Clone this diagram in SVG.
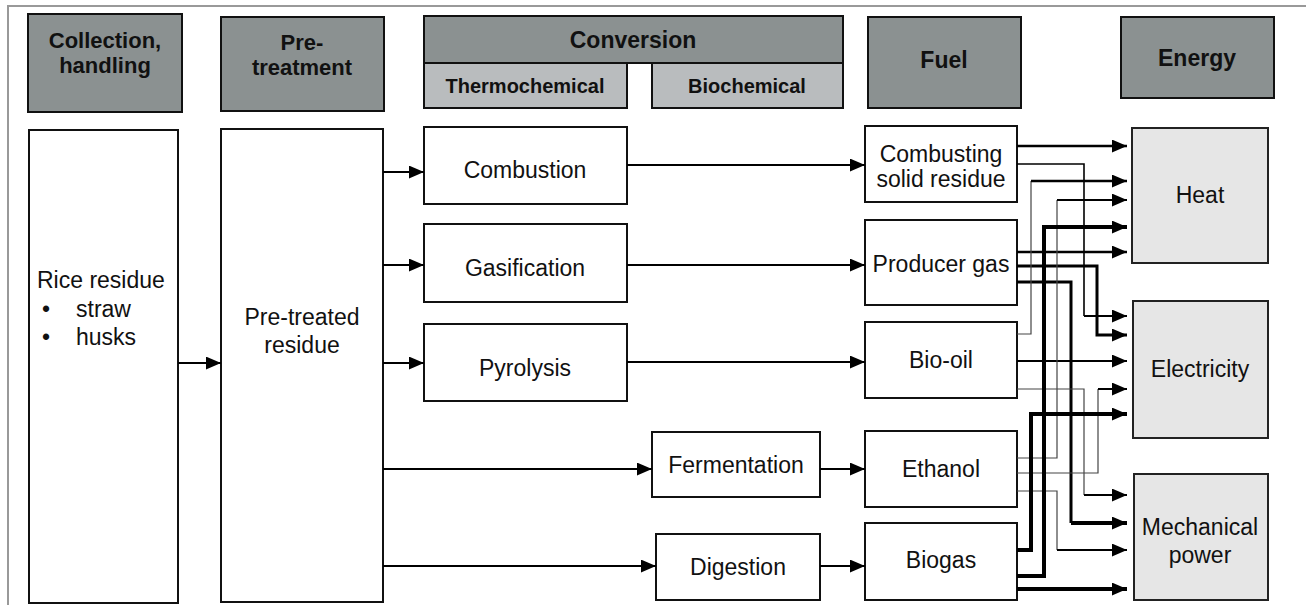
<svg xmlns="http://www.w3.org/2000/svg" width="1306" height="605" viewBox="0 0 1306 605">
<style>
.hdr{fill:#8b9191;stroke:#111;stroke-width:2}
.sub{fill:#b9bcbe;stroke:#111;stroke-width:2}
.box{fill:#fff;stroke:#111;stroke-width:2}
.en{fill:#e6e6e6;stroke:#222;stroke-width:2}
.t{font-family:"Liberation Sans",Arial,sans-serif;font-size:23px;fill:#111;text-anchor:middle}
.l{text-anchor:start}
.b{font-weight:bold}
.h2{font-size:22px}
.s{font-size:20px}
.ln{fill:none;stroke:#000;stroke-width:2}
.th{fill:none;stroke:#444;stroke-width:1.2}
.m15{fill:none;stroke:#000;stroke-width:1.6}
.m25{fill:none;stroke:#000;stroke-width:2.5}
.m3{fill:none;stroke:#000;stroke-width:3}
.k4{fill:none;stroke:#000;stroke-width:4}
</style>
<defs>
<marker id="ah" markerUnits="userSpaceOnUse" markerWidth="15" markerHeight="13" refX="14" refY="6" orient="auto" viewBox="0 0 14 12"><path d="M0,0 L14,6 L0,12 Z" fill="#000"/></marker>
</defs>
<path d="M8,605 V6 H1306" fill="none" stroke="#999" stroke-width="2"/>

<g id="hdr-collection"><rect class="hdr" x="28" y="14" width="154" height="98"/><text class="t b h2" x="105" y="48">Collection,</text><text class="t b h2" x="105" y="73">handling</text></g>
<g id="hdr-pretreatment"><rect class="hdr" x="221" y="17" width="163" height="94"/><text class="t b h2" x="302" y="50">Pre-</text><text class="t b h2" x="302" y="75">treatment</text></g>
<g id="hdr-conversion"><rect class="hdr" x="424" y="16" width="419" height="47"/><text class="t b" x="633" y="48">Conversion</text></g>
<g id="hdr-thermo"><rect class="sub" x="424" y="63" width="203" height="45"/><text class="t b s" x="525" y="93">Thermochemical</text></g>
<g id="hdr-bio"><rect class="sub" x="652" y="63" width="191" height="45"/><text class="t b s" x="747" y="93">Biochemical</text></g>
<g id="hdr-fuel"><rect class="hdr" x="868" y="17" width="153" height="91"/><text class="t b" x="944" y="68">Fuel</text></g>
<g id="hdr-energy"><rect class="hdr" x="1121" y="17" width="153" height="81"/><text class="t b" x="1197" y="66">Energy</text></g>

<g id="rice"><rect class="box" x="29" y="130" width="149" height="473"/><text class="t l" x="37" y="288">Rice residue</text><text class="t l" x="42" y="317">•</text><text class="t l" x="76" y="317">straw</text><text class="t l" x="42" y="345">•</text><text class="t l" x="76" y="345">husks</text></g>
<g id="pretreated"><rect class="box" x="221" y="129" width="162" height="473"/><text class="t" x="302" y="325">Pre-treated</text><text class="t" x="302" y="353">residue</text></g>

<g id="combustion"><rect class="box" x="424" y="127" width="203" height="77"/><text class="t" x="525" y="178">Combustion</text></g>
<g id="gasification"><rect class="box" x="424" y="224" width="203" height="78"/><text class="t" x="525" y="276">Gasification</text></g>
<g id="pyrolysis"><rect class="box" x="424" y="324" width="203" height="77"/><text class="t" x="525" y="376">Pyrolysis</text></g>
<g id="fermentation"><rect class="box" x="652" y="432" width="168" height="65"/><text class="t" x="736" y="473">Fermentation</text></g>
<g id="digestion"><rect class="box" x="656" y="534" width="164" height="66"/><text class="t" x="738" y="575">Digestion</text></g>

<g id="combusting"><rect class="box" x="865" y="126" width="152" height="76"/><text class="t" x="941" y="162">Combusting</text><text class="t" x="941" y="187">solid residue</text></g>
<g id="producergas"><rect class="box" x="865" y="220" width="152" height="85"/><text class="t" x="941" y="272">Producer gas</text></g>
<g id="biooil"><rect class="box" x="865" y="322" width="152" height="76"/><text class="t" x="941" y="368">Bio-oil</text></g>
<g id="ethanol"><rect class="box" x="865" y="431" width="152" height="76"/><text class="t" x="941" y="477">Ethanol</text></g>
<g id="biogas"><rect class="box" x="865" y="523" width="152" height="77"/><text class="t" x="941" y="568">Biogas</text></g>

<g id="heat"><rect class="en" x="1132" y="128" width="136" height="135"/><text class="t" x="1200" y="203">Heat</text></g>
<g id="electricity"><rect class="en" x="1133" y="301" width="135" height="137"/><text class="t" x="1200" y="377">Electricity</text></g>
<g id="mechanical"><rect class="en" x="1134" y="474" width="134" height="126"/><text class="t" x="1200" y="535">Mechanical</text><text class="t" x="1200" y="563">power</text></g>

<g id="connectors">
<path class="ln" d="M178,363 H221" marker-end="url(#ah)"/>
<path class="ln" d="M383,172 H424" marker-end="url(#ah)"/>
<path class="ln" d="M383,265 H424" marker-end="url(#ah)"/>
<path class="ln" d="M383,363 H424" marker-end="url(#ah)"/>
<path class="ln" d="M383,469 H652" marker-end="url(#ah)"/>
<path class="ln" d="M383,566 H656" marker-end="url(#ah)"/>
<path class="ln" d="M627,165 H865" marker-end="url(#ah)"/>
<path class="ln" d="M627,265 H865" marker-end="url(#ah)"/>
<path class="ln" d="M627,362 H865" marker-end="url(#ah)"/>
<path class="ln" d="M820,469 H865" marker-end="url(#ah)"/>
<path class="ln" d="M820,566 H865" marker-end="url(#ah)"/>

<path class="m25" d="M1017,146 H1127" marker-end="url(#ah)"/>
<path class="m15" d="M1017,164 H1084 V316"/>
<path class="ln" d="M1084,316 H1127" marker-end="url(#ah)"/>
<path class="m25" d="M1017,252 H1127" marker-end="url(#ah)"/>
<path class="m3" d="M1017,266 H1097 V335 H1127" marker-end="url(#ah)"/>
<path class="m3" d="M1017,282 H1071 V523"/>
<path class="k4" d="M1071,523 H1127" marker-end="url(#ah)"/>
<path class="th" d="M1017,334 H1031 V181"/>
<path class="m25" d="M1031,181 H1127" marker-end="url(#ah)"/>
<path class="ln" d="M1017,361 H1127" marker-end="url(#ah)"/>
<path class="th" d="M1017,389 H1084 V495"/>
<path class="ln" d="M1084,495 H1127" marker-end="url(#ah)"/>
<path class="th" d="M1017,458 H1057 V200"/>
<path class="ln" d="M1057,200 H1127" marker-end="url(#ah)"/>
<path class="th" d="M1017,473 H1098 V389"/>
<path class="ln" d="M1098,389 H1127" marker-end="url(#ah)"/>
<path class="th" d="M1017,491 H1057 V550"/>
<path class="ln" d="M1057,550 H1127" marker-end="url(#ah)"/>
<path class="k4" d="M1017,550 H1031 V414 H1127" marker-end="url(#ah)"/>
<path class="k4" d="M1017,576 H1044 V227 H1127" marker-end="url(#ah)"/>
<path class="k4" d="M1017,589 H1127" marker-end="url(#ah)"/>
</g>
</svg>
